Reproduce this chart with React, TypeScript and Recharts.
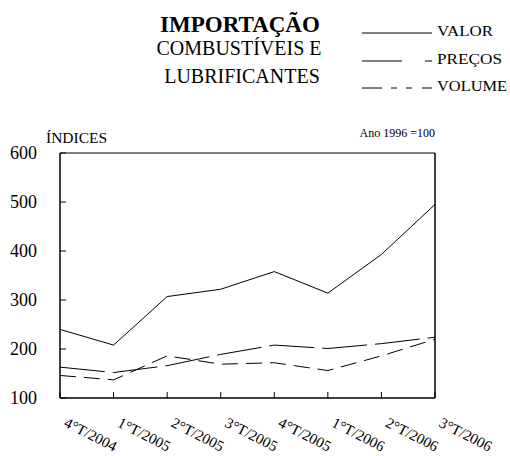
import React from 'react';
import { LineChart, Line, XAxis, YAxis, ReferenceLine } from 'recharts';

const quarters = ['4°T/2004', '1°T/2005', '2°T/2005', '3°T/2005', '4°T/2005', '1°T/2006', '2°T/2006', '3°T/2006'];
const valor = [240, 208, 307, 322, 358, 314, 393, 495];
const precos = [163, 152, 166, 189, 208, 201, 211, 224];
const volume = [146, 137, 186, 169, 172, 156, 186, 220];
const yTicks = [100, 200, 300, 400, 500, 600];

const data = quarters.map((q, i) => ({ q, valor: valor[i], precos: precos[i], volume: volume[i] }));

const FONT = '"Liberation Serif", "Times New Roman", serif';

const YTick = (props: any) => {
  const { x, y, payload } = props;
  return (
    <g>
      <line x1={x} x2={x + 6} y1={y} y2={y} stroke="#000" strokeWidth={1} />
      <text x={x - 23} y={y + 6} textAnchor="end" fontSize={18} fontFamily={FONT} fill="#000">
        {payload.value}
      </text>
    </g>
  );
};

const XTick = (props: any) => {
  const { x, y, payload } = props;
  const tx = x + 3;
  const ty = y + 28;
  return (
    <g>
      <line x1={x} x2={x} y1={y} y2={y - 6} stroke="#000" strokeWidth={1} />
      <text x={tx} y={ty} textAnchor="start" fontSize={15} fontFamily={FONT} fill="#000" transform={`rotate(27, ${tx}, ${ty})`}>
        {payload.value}
      </text>
    </g>
  );
};

export default function App() {
  return (
    <div style={{ position: 'absolute', left: 0, top: 0, width: 510, height: 456, background: '#fff' }}>
      <LineChart width={510} height={456} data={data} margin={{ top: 153, right: 75, bottom: 8, left: 10 }}>
        <XAxis
          dataKey="q"
          interval={0}
          height={50}
          tickSize={0}
          tickMargin={0}
          tickLine={false}
          axisLine={{ stroke: '#000', strokeWidth: 1.5 }}
          tick={<XTick />}
        />
        <YAxis
          domain={[100, 600]}
          ticks={yTicks}
          width={50}
          tickSize={0}
          tickMargin={0}
          tickLine={false}
          axisLine={{ stroke: '#000', strokeWidth: 1.5 }}
          tick={<YTick />}
        />
        <ReferenceLine y={600} stroke="#000" strokeWidth={1} ifOverflow="visible" />
        <ReferenceLine x={quarters[quarters.length - 1]} stroke="#000" strokeWidth={1.5} ifOverflow="visible" />
        <Line dataKey="valor" stroke="#000" strokeWidth={1} dot={false} isAnimationActive={false} />
        <Line dataKey="precos" stroke="#000" strokeWidth={1} strokeDasharray="45 8" dot={false} isAnimationActive={false} />
        <Line dataKey="volume" stroke="#000" strokeWidth={1} strokeDasharray="16 8" dot={false} isAnimationActive={false} />
      </LineChart>
      <svg width={510} height={456} style={{ position: 'absolute', left: 0, top: 0, pointerEvents: 'none' }}>
        <g fontFamily={FONT} fill="#000">
          <text x={240} y={32} textAnchor="middle" fontSize={23} fontWeight="bold">IMPORTAÇÃO</text>
          <text x={239} y={55} textAnchor="middle" fontSize={20}>COMBUSTÍVEIS E</text>
          <text x={242} y={83} textAnchor="middle" fontSize={20}>LUBRIFICANTES</text>
          <text x={437} y={36} fontSize={14} textLength={56} lengthAdjust="spacingAndGlyphs">VALOR</text>
          <text x={437} y={64} fontSize={14} textLength={65} lengthAdjust="spacingAndGlyphs">PREÇOS</text>
          <text x={437} y={91} fontSize={14} textLength={70} lengthAdjust="spacingAndGlyphs">VOLUME</text>
          <text x={46} y={143} fontSize={15.5}>ÍNDICES</text>
          <text x={435} y={137} textAnchor="end" fontSize={12}>Ano 1996 =100</text>
        </g>
        <g stroke="#000" strokeWidth={1}>
          <line x1={362} x2={432} y1={33} y2={33} />
          <line x1={362} x2={402} y1={61} y2={61} />
          <line x1={425} x2={432} y1={61} y2={61} />
          <line x1={362} x2={382} y1={88} y2={88} />
          <line x1={391} x2={397} y1={88} y2={88} />
          <line x1={406} x2={412} y1={88} y2={88} />
          <line x1={422} x2={432} y1={88} y2={88} />
        </g>
      </svg>
    </div>
  );
}
